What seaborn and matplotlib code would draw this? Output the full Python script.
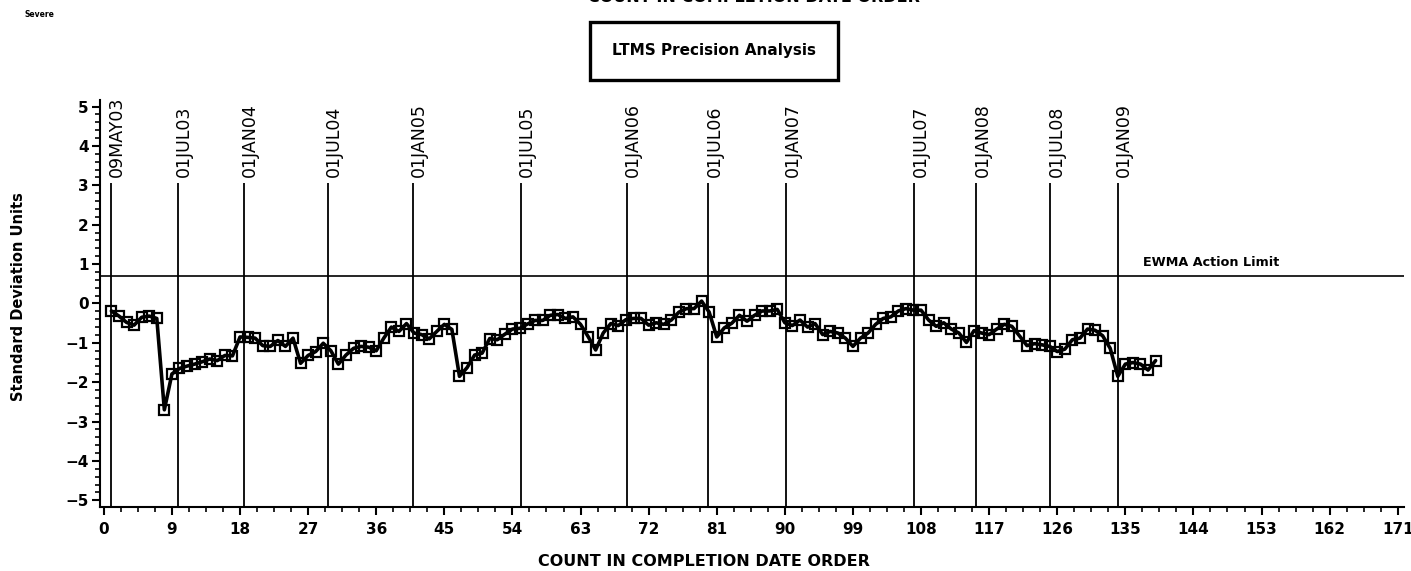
import matplotlib
matplotlib.use("Agg")
import matplotlib.pyplot as plt
import seaborn as sns
import pandas as pd
import numpy as np
from matplotlib.patches import Rectangle
from matplotlib.ticker import MultipleLocator

# ---------------- data ----------------
values = [
    -0.19, -0.32, -0.48, -0.55, -0.35, -0.32, -0.38, -2.70, -1.79, -1.65,
    -1.59, -1.54, -1.48, -1.41, -1.45, -1.32, -1.33, -0.85, -0.86, -0.88,
    -1.07, -1.09, -0.94, -1.09, -0.88, -1.52, -1.32, -1.22, -1.01, -1.20,
    -1.54, -1.31, -1.14, -1.09, -1.11, -1.20, -0.88, -0.60, -0.71, -0.51,
    -0.75, -0.79, -0.90, -0.71, -0.53, -0.66, -1.85, -1.63, -1.31, -1.26,
    -0.89, -0.92, -0.78, -0.65, -0.63, -0.52, -0.43, -0.43, -0.30, -0.28,
    -0.38, -0.34, -0.53, -0.84, -1.18, -0.75, -0.51, -0.56, -0.41, -0.38,
    -0.38, -0.55, -0.49, -0.53, -0.42, -0.22, -0.13, -0.13, 0.06, -0.22,
    -0.85, -0.62, -0.50, -0.30, -0.45, -0.30, -0.19, -0.19, -0.15, -0.49,
    -0.56, -0.42, -0.60, -0.51, -0.79, -0.71, -0.75, -0.88, -1.09, -0.88,
    -0.75, -0.53, -0.38, -0.34, -0.19, -0.13, -0.17, -0.17, -0.42, -0.58,
    -0.49, -0.65, -0.75, -0.99, -0.69, -0.75, -0.79, -0.65, -0.53, -0.58,
    -0.82, -1.07, -1.02, -1.05, -1.09, -1.22, -1.16, -0.92, -0.88, -0.65,
    -0.68, -0.82, -1.14, -1.85, -1.54, -1.50, -1.54, -1.69, -1.45,
]
counts = list(range(1, len(values) + 1))

date_labels = ["09MAY03", "01JUL03", "01JAN04", "01JUL04", "01JAN05", "01JUL05",
               "01JAN06", "01JUL06", "01JAN07", "01JUL07", "01JAN08", "01JUL08",
               "01JAN09"]
date_positions = [0.93, 9.8, 18.5, 29.6, 40.8, 55.1, 69.1, 79.9, 90.2, 107.1,
                  115.3, 125.1, 134.0]

action_limit = 0.71
action_label = "EWMA Action Limit"
x_ticks = list(range(0, 172, 9))
y_ticks = list(range(-5, 6))

df = pd.DataFrame({"count": counts, "sdu": values})

# ---------------- style ----------------
sns.set_theme(style="ticks")
narrow = ["DejaVu Sans Condensed", "DejaVu Sans"]
plt.rcParams["font.family"] = ["DejaVu Sans"]
plt.rcParams["text.color"] = "black"
plt.rcParams["axes.unicode_minus"] = True

fig = plt.figure(figsize=(14.11, 5.71), dpi=100)
ax = fig.add_axes([0.0709, 0.112, 0.924, 0.713])

sns.lineplot(data=df, x="count", y="sdu", ax=ax, color="black", linewidth=2.6,
             marker="s", markersize=7.5, markerfacecolor="none",
             markeredgecolor="black", markeredgewidth=1.6, zorder=5)

ax.set_xlim(-0.5, 171.8)
ax.set_ylim(-5.17, 5.17)

# reference lines
ax.axhline(action_limit, color="black", linewidth=1.2, zorder=2)
ax.vlines(date_positions, ymin=-5.17, ymax=3.07, color="black", linewidth=1.3, zorder=2)
for pos, lbl in zip(date_positions, date_labels):
    ax.annotate(lbl, (pos, 3.22), xytext=(4.5, 0), textcoords="offset points",
                rotation=90, ha="center", va="bottom", fontsize=12.5,
                family=["DejaVu Sans"], color="black")
ax.text(137.3, 1.04, action_label, ha="left", va="center", fontsize=9.2,
        family=narrow, fontweight="bold", color="black")

# axes styling
sns.despine(ax=ax, top=True, right=True)
for s in ["left", "bottom"]:
    ax.spines[s].set_color("black")
    ax.spines[s].set_linewidth(1.5)
ax.set_xticks(x_ticks)
ax.set_yticks(y_ticks)
ax.set_yticklabels([f"{v}".replace("-", "\u2212") for v in y_ticks])
ax.xaxis.set_minor_locator(MultipleLocator(2.25))
ax.yaxis.set_minor_locator(MultipleLocator(0.2))
ax.tick_params(axis="both", which="major", direction="out", length=6, width=1.5,
               color="black", labelcolor="black", labelsize=11)
ax.tick_params(axis="both", which="minor", direction="out", length=3.5, width=1.2,
               color="black")
ax.tick_params(axis="x", which="major", pad=5)
ax.tick_params(axis="y", which="major", pad=2)
for lab in ax.get_xticklabels() + ax.get_yticklabels():
    lab.set_fontweight("bold")
    lab.set_family(narrow)
ax.set_xlabel("")
ax.set_ylabel("")
ax.grid(False)

# figure texts
fig.text(0.013, 0.48, "Standard Deviation Units", rotation=90, ha="center",
         va="center", fontsize=10.5, fontweight="heavy", family=["DejaVu Sans"],
         color="black")
fig.text(0.499, 0.016, "COUNT IN COMPLETION DATE ORDER", ha="center", va="center",
         fontsize=11.5, fontweight="bold", family=narrow, color="black")
fig.text(0.534, 1.004, "COUNT IN COMPLETION DATE ORDER", ha="center", va="center",
         fontsize=11.5, fontweight="bold", family=narrow, color="black")
fig.text(0.0177, 0.975, "Severe", ha="left", va="center", fontsize=5.5,
         fontweight="bold", family=narrow, color="black")

fig.patches.append(Rectangle((0.418, 0.860), 0.176, 0.1015, transform=fig.transFigure,
                             fill=False, edgecolor="black", linewidth=2.4))
fig.text(0.506, 0.911, "LTMS Precision Analysis", ha="center", va="center",
         fontsize=11, fontweight="bold", family=narrow, color="black")

fig.savefig("out.png", dpi=100)
